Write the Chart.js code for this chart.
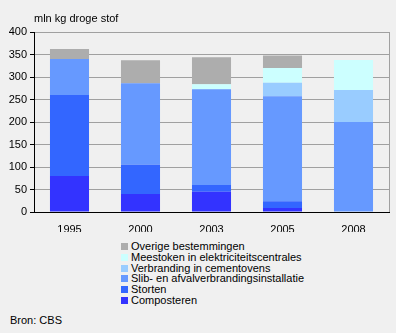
<!DOCTYPE html>
<html>
<head>
<meta charset="utf-8">
<script src="https://cdn.jsdelivr.net/npm/chart.js@4.4.0/dist/chart.umd.min.js"></script>
<style>
  body{margin:0;background:#f0f0f0;font-family:Arial,"Liberation Sans",sans-serif;font-size:11px;color:#000;}
  #wrap{position:relative;width:396px;height:333px;overflow:hidden;}
  #c{position:absolute;left:0;top:0;}
  #legend{position:absolute;left:121px;top:241px;}
  .li{height:10.8px;line-height:11px;white-space:nowrap;}
  .sw{display:inline-block;width:7px;height:7px;margin-right:3px;vertical-align:-0px;}
  #src{position:absolute;left:10px;top:314px;}
</style>
</head>
<body>
<div id="wrap">
  <canvas id="c" width="396" height="232"></canvas>
  <div id="legend"></div>
  <div id="src">Bron: CBS</div>
</div>
<script>
const years=['1995','2000','2003','2005','2008'];
const composteren=[80,40,45,9,0];
const storten=[180,65,15,15,0];
const slib=[80,181,213,233,200];
const cementovens=[0,0,0,30,71];
const meestoken=[0,0,11,33,67];
const overige=[22,51,60,28,0];
const yTicks=[0,50,100,150,200,250,300,350,400];

// onderste reeks eerst
var series=[
  {label:'Composteren',data:composteren,color:'#3333ff'},
  {label:'Storten',data:storten,color:'#3366ff'},
  {label:'Slib- en afvalverbrandingsinstallatie',data:slib,color:'#6699ff'},
  {label:'Verbranding in cementovens',data:cementovens,color:'#99ccff'},
  {label:'Meestoken in elektriciteitscentrales',data:meestoken,color:'#ccffff'},
  {label:'Overige bestemmingen',data:overige,color:'#adadad'}
];

var extras={
  id:'extras',
  afterDraw(chart){
    var ctx=chart.ctx, a=chart.chartArea;
    ctx.save();
    ctx.strokeStyle='#a0a0a0';
    ctx.lineWidth=1;
    ctx.beginPath();
    ctx.moveTo(Math.round(a.right)+0.5,a.top);
    ctx.lineTo(Math.round(a.right)+0.5,a.bottom);
    ctx.stroke();
    ctx.fillStyle='#000';
    ctx.font='11px Arial, "Liberation Sans", sans-serif';
    ctx.textBaseline='alphabetic';
    ctx.fillText('mln kg droge stof',a.left,a.top-10);
    ctx.restore();
  }
};

var ctx=document.getElementById('c').getContext('2d');
var myChart=new Chart(ctx,{
  type:'bar',
  data:{
    labels:years,
    datasets:series.map(s=>({
      label:s.label,
      data:s.data,
      backgroundColor:s.color,
      borderWidth:0,
      categoryPercentage:1,
      barPercentage:0.55
    }))
  },
  options:{
    responsive:false,
    animation:false,
    layout:{padding:{top:32,right:7,left:0,bottom:0}},
    plugins:{legend:{display:false},tooltip:{enabled:false}},
    scales:{
      x:{
        stacked:true,
        grid:{display:false},
        border:{color:'#000'},
        ticks:{color:'#000',font:{family:'Arial, "Liberation Sans", sans-serif',size:11},padding:3,maxRotation:0},
        afterFit:s=>{s.height=20;}
      },
      y:{
        stacked:true,
        min:0,max:400,
        afterBuildTicks:s=>{s.ticks=yTicks.map(v=>({value:v}));},
        grid:{color:'#a0a0a0',tickColor:'#000',tickLength:4},
        border:{color:'#000'},
        ticks:{color:'#000',font:{family:'Arial, "Liberation Sans", sans-serif',size:11},padding:3},
        afterFit:s=>{s.width=34;}
      }
    }
  },
  plugins:[extras]
});

// legenda, omgekeerde volgorde
var lg=document.getElementById('legend');
series.slice().reverse().forEach(s=>{
  var d=document.createElement('div');
  d.className='li';
  d.innerHTML='<span class="sw" style="background:'+s.color+'"></span>'+s.label;
  lg.appendChild(d);
});
</script>
</body>
</html>
